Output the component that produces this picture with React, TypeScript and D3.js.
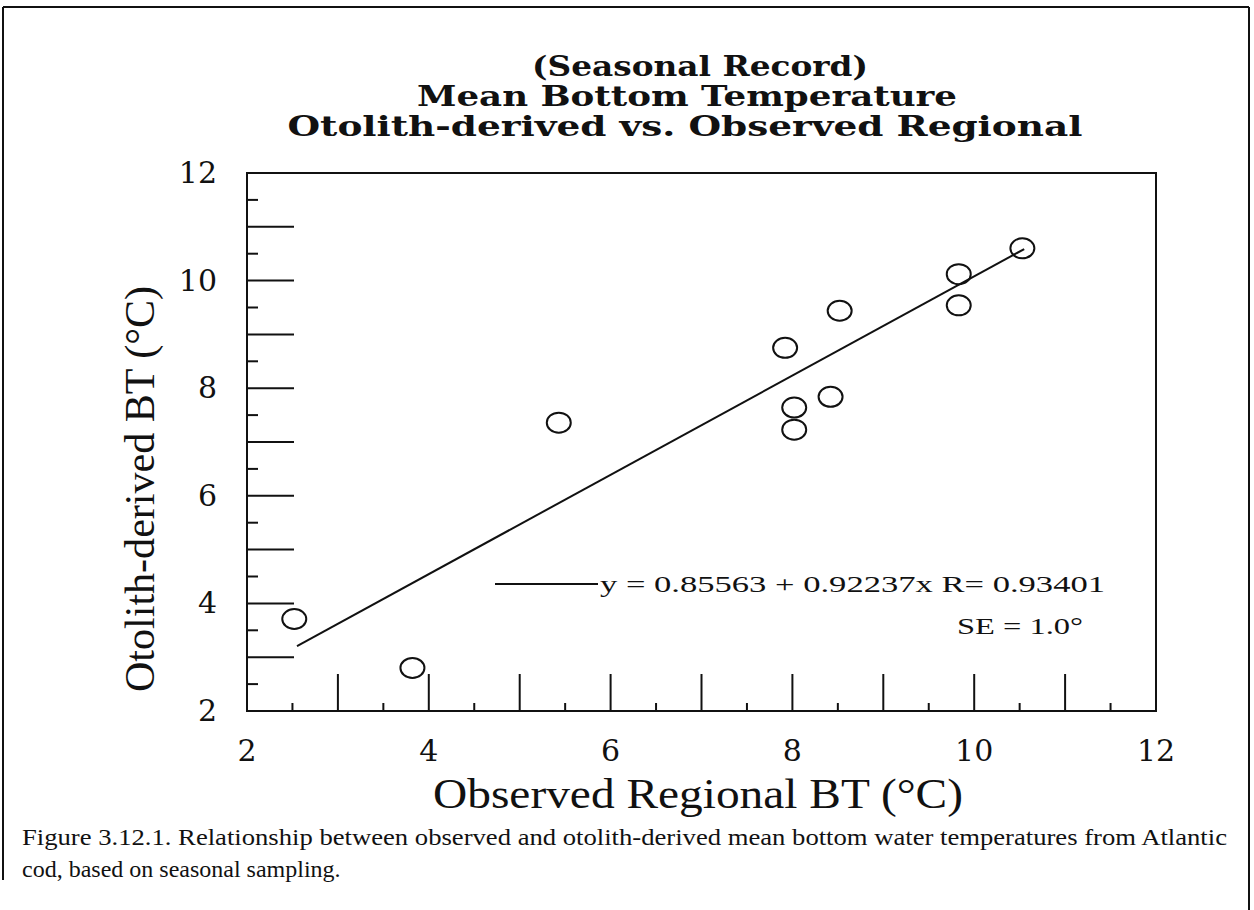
import React from "react";
import * as d3 from "d3";

const titleLines = ["(Seasonal  Record)", "Mean Bottom Temperature", "Otolith-derived  vs.  Observed  Regional"];
const observedBT = [2.52, 3.82, 5.43, 7.92, 8.02, 8.02, 8.42, 8.52, 9.83, 9.83, 10.53];
const otolithBT = [3.71, 2.8, 7.36, 8.75, 7.64, 7.23, 7.84, 9.44, 10.12, 9.54, 10.6];
const xTickLabels = [2, 4, 6, 8, 10, 12];
const yTickLabels = [2, 4, 6, 8, 10, 12];
const fitIntercept = 0.85563;
const fitSlope = 0.92237;
const fitRange = [2.55, 10.55];
const equationText = "y = 0.85563 + 0.92237x  R= 0.93401";
const seText = "SE = 1.0°";
const xTitle = "Observed Regional BT (°C)";
const yTitle = "Otolith-derived BT (°C)";
const captionLines = [
  "Figure 3.12.1.  Relationship between observed and otolith-derived mean bottom water temperatures from Atlantic",
  "cod, based on seasonal sampling.",
];

export default function App() {
  const W = 1254, H = 910;
  const left = 247, right = 1156, top = 173, bottom = 711;
  const x = d3.scaleLinear().domain([2, 12]).range([left, right]);
  const y = d3.scaleLinear().domain([2, 12]).range([bottom, top]);
  const halfTicks = d3.range(2.5, 12, 0.5);
  const serifBold = "DejaVu Serif, serif";
  const times = "Liberation Serif, Times New Roman, Times, serif";
  const fitLine = d3.line<number>().x((v) => x(v)).y((v) => y(fitIntercept + fitSlope * v));

  return (
    <svg width={W} height={H} style={{ position: "absolute", left: 0, top: 0, display: "block", background: "#fff" }}>
      {/* outer frame */}
      <g stroke="#111" strokeWidth={2} fill="none">
        <line x1={3} y1={7} x2={1249} y2={7} />
        <line x1={3} y1={7} x2={3} y2={880} />
        <line x1={1249} y1={7} x2={1249} y2={910} />
      </g>

      {/* title */}
      <g style={{ fontFamily: serifBold, fontWeight: "bold", fontSize: 28 }} fill="#111" textAnchor="middle">
        <text x={700} y={76} textLength={336} lengthAdjust="spacingAndGlyphs">{titleLines[0]}</text>
        <text x={687} y={106} textLength={540} lengthAdjust="spacingAndGlyphs">{titleLines[1]}</text>
        <text x={685} y={136} textLength={795} lengthAdjust="spacingAndGlyphs">{titleLines[2]}</text>
      </g>

      {/* plot frame */}
      <rect x={left} y={top} width={right - left} height={bottom - top} fill="none" stroke="#111" strokeWidth={2} />

      {/* ticks */}
      <g stroke="#111" strokeWidth={2}>
        {halfTicks.map((v) => (
          <line key={"y" + v} x1={left} x2={left + (Number.isInteger(v) ? 47 : 11)} y1={y(v)} y2={y(v)} />
        ))}
        {halfTicks.map((v) => (
          <line key={"x" + v} x1={x(v)} x2={x(v)} y1={bottom} y2={bottom - (Number.isInteger(v) ? 37 : 8)} />
        ))}
      </g>

      {/* tick labels */}
      <g style={{ fontFamily: serifBold, fontSize: 30 }} fill="#111">
        {yTickLabels.map((v) => (
          <text key={"yl" + v} x={217} y={y(v) + 10} textAnchor="end">{v}</text>
        ))}
        {xTickLabels.map((v) => (
          <text key={"xl" + v} x={x(v)} y={761} textAnchor="middle">{v}</text>
        ))}
      </g>

      {/* axis titles */}
      <text x={698} y={808} style={{ fontFamily: times, fontSize: 42 }} textAnchor="middle" fill="#111" textLength={530} lengthAdjust="spacingAndGlyphs">{xTitle}</text>
      <text transform="translate(154,489) rotate(-90)" style={{ fontFamily: times, fontSize: 42 }} textAnchor="middle" fill="#111" textLength={406} lengthAdjust="spacingAndGlyphs">{yTitle}</text>

      {/* fit line */}
      <path d={fitLine(fitRange) || ""} fill="none" stroke="#111" strokeWidth={2} />

      {/* points */}
      <g fill="none" stroke="#111" strokeWidth={2}>
        {observedBT.map((v, i) => (
          <ellipse key={"p" + i} cx={x(v)} cy={y(otolithBT[i])} rx={12} ry={10} />
        ))}
      </g>

      {/* legend */}
      <line x1={495} x2={598} y1={584} y2={584} stroke="#111" strokeWidth={2} />
      <text x={600} y={592} style={{ fontFamily: times, fontSize: 24 }} fill="#111" textLength={505} lengthAdjust="spacingAndGlyphs">{equationText}</text>
      <text x={957} y={634} style={{ fontFamily: times, fontSize: 24 }} fill="#111" textLength={126} lengthAdjust="spacingAndGlyphs">{seText}</text>

      {/* caption */}
      <g style={{ fontFamily: times, fontSize: 24 }} fill="#111">
        <text x={22} y={845} textLength={1205} lengthAdjust="spacingAndGlyphs">{captionLines[0]}</text>
        <text x={22} y={877}>{captionLines[1]}</text>
      </g>
    </svg>
  );
}
